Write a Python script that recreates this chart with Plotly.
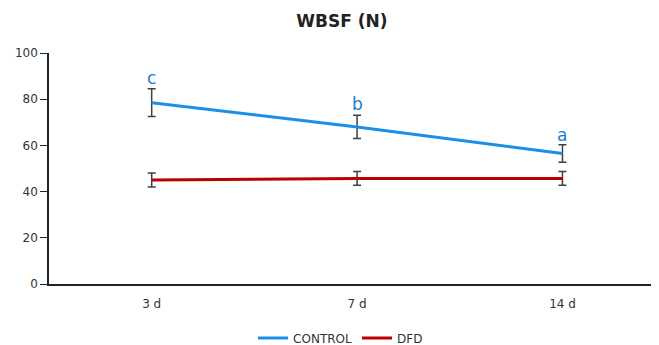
import plotly.graph_objects as go

categories = ["3 d", "7 d", "14 d"]
control = [78.5, 68.0, 56.5]
control_err = [6.0, 5.0, 3.8]
dfd = [45.0, 45.7, 45.7]
dfd_err = [3.0, 3.0, 3.0]
letters = ["c", "b", "a"]
letter_y = [89, 78, 64.5]
y_ticks = [0, 20, 40, 60, 80, 100]

blue = "#1B8FE6"
red = "#C00000"
errc = "#404040"
font = "DejaVu Sans"

fig = go.Figure()
fig.add_trace(go.Scatter(
    x=categories, y=control, mode="lines", name="CONTROL",
    line=dict(color=blue, width=3),
    error_y=dict(type="data", array=control_err, color=errc, thickness=1.5, width=4),
))
fig.add_trace(go.Scatter(
    x=categories, y=dfd, mode="lines", name="DFD",
    line=dict(color=red, width=3),
    error_y=dict(type="data", array=dfd_err, color=errc, thickness=1.5, width=4),
))
for c, t, yv in zip(categories, letters, letter_y):
    fig.add_annotation(x=c, y=yv, text=t, showarrow=False,
                       font=dict(family=font, size=17, color="#1A7DD0"),
                       yanchor="middle")

fig.update_layout(
    width=651, height=337,
    margin=dict(l=41, r=0, t=45, b=61, autoexpand=False),
    paper_bgcolor="white", plot_bgcolor="white",
    title=dict(text="<b>WBSF (N)</b>", x=0.513, xanchor="center", y=0.961, yref="container",
               yanchor="middle", font=dict(family=font, size=17, color="#222")),
    font=dict(family=font, size=12, color="#333"),
    showlegend=True,
    legend=dict(orientation="h", x=0.478, xanchor="center", y=-0.234, yanchor="middle",
                font=dict(family=font, size=12, color="#333"), itemwidth=30),
    xaxis=dict(type="category", range=[-0.5, 2.47], showline=True, linecolor="#222",
               linewidth=1.5, showgrid=False, ticks="", zeroline=False,
               automargin=False, ticklabelstandoff=8),
    yaxis=dict(range=[0, 100], tickvals=y_ticks, showline=True, linecolor="#222",
               linewidth=1.5, showgrid=False, ticks="outside", ticklen=7,
               tickcolor="#222", zeroline=False, automargin=False),
)
fig.write_html("out.html")
